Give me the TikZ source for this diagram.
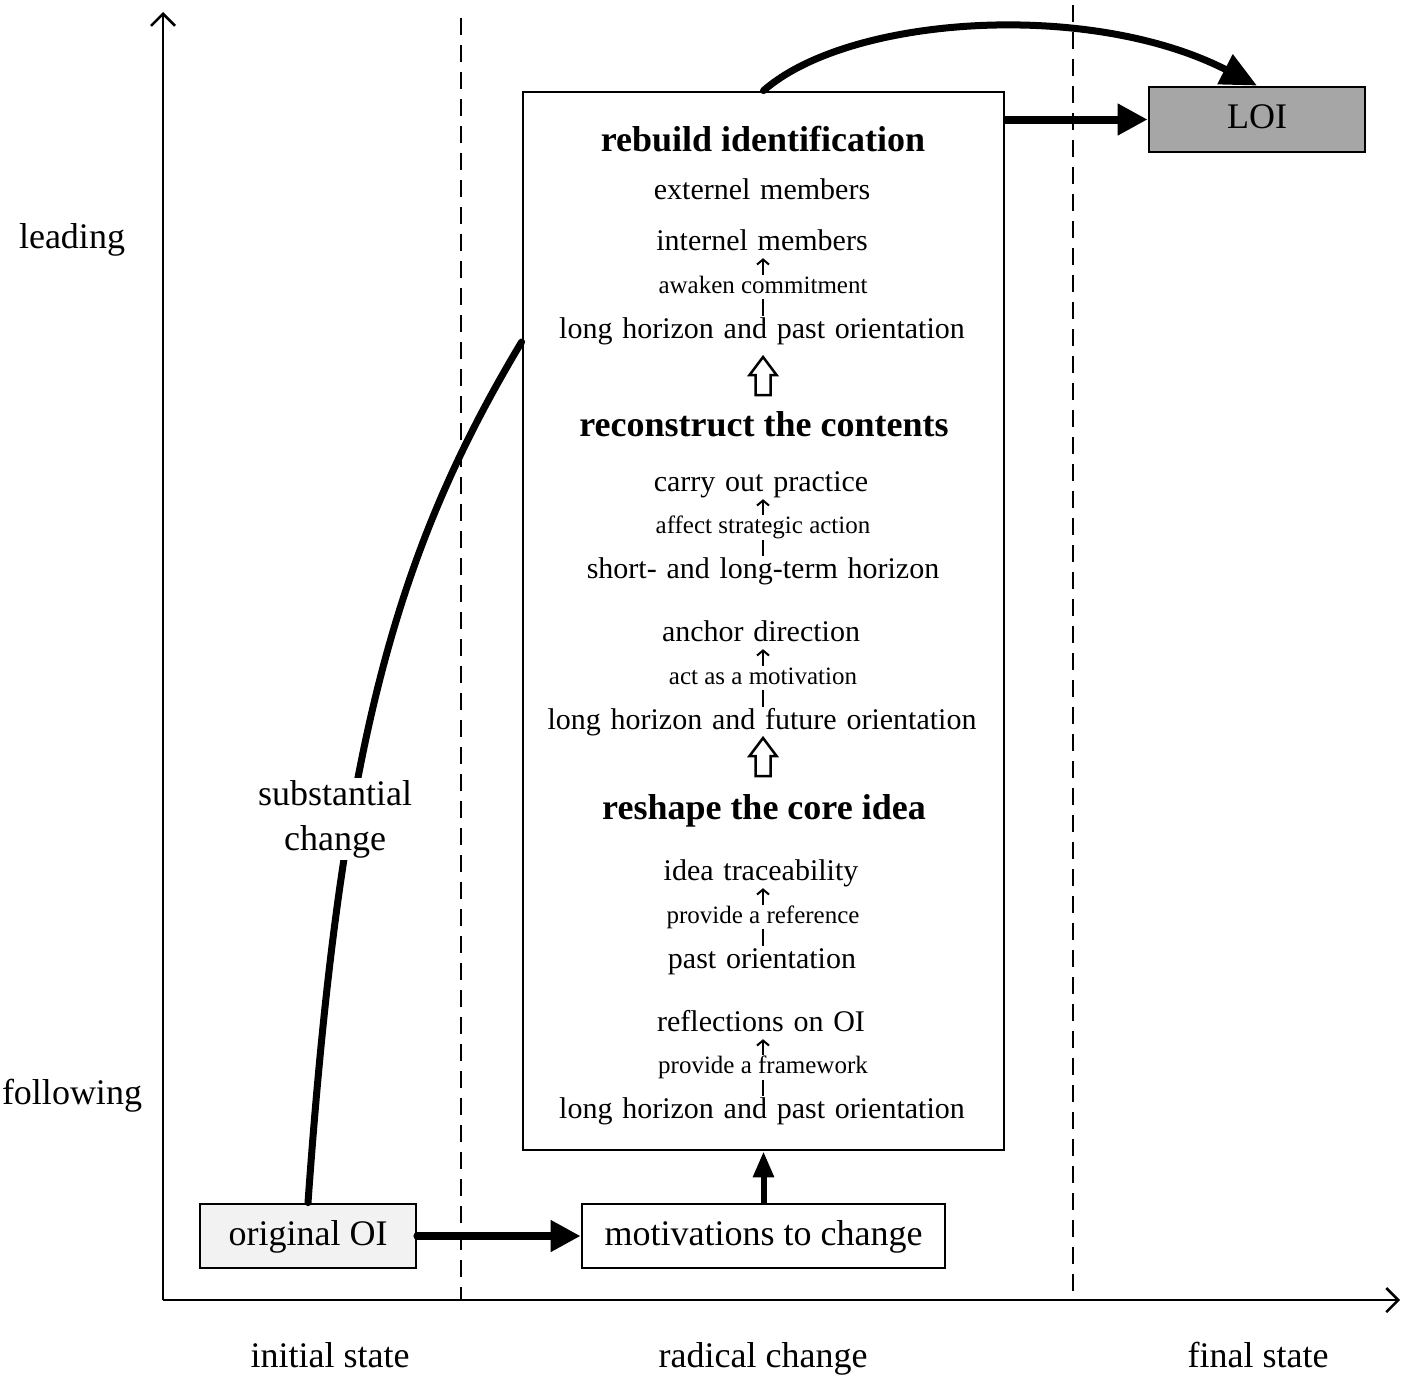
\documentclass[tikz,border=0pt]{standalone}
\usepackage{fontspec}
\setmainfont{Liberation Serif}
\newfontfamily\widefont[WordSpace=1.3]{Liberation Serif}
\usetikzlibrary{arrows.meta,calc}
\begin{document}
\begin{tikzpicture}[x=1pt,y=-1pt,
  axis/.style={line width=2.5pt,-{Straight Barb[length=12pt,width=24pt]}},
  dashline/.style={line width=2.5pt,dash pattern=on 17pt off 10pt},
  box/.style={draw,line width=2.8pt,minimum height=64pt,inner sep=0pt,font=\fontsize{36}{40}\selectfont,text height=26pt,text depth=8pt},
  main/.style={font=\widefont\fontsize{30}{34}\selectfont,inner sep=1pt,text height=21.5pt,text depth=6.5pt},
  head/.style={font=\fontsize{36}{40}\selectfont\bfseries,inner sep=1pt,text height=26pt,text depth=8pt},
  small/.style={font=\fontsize{25}{27}\selectfont,fill=white,inner sep=0.5pt,text height=18pt,text depth=5.5pt},
  lab/.style={font=\fontsize{36}{45}\selectfont,align=center},
  axlab/.style={font=\fontsize{36}{45}\selectfont,text height=26pt,text depth=8pt},
  thin/.style={line width=2pt,-{Straight Barb[length=5pt,width=12pt]}},
  thick/.style={line width=8pt,-{Triangle[length=30pt,width=30pt]}},
  curvearr/.style={line width=7pt,line cap=round},
  hollow/.style={draw,line width=2.5pt,fill=white,line join=miter}
]
\useasboundingbox (0,0) rectangle (1402,1376);
% axes
\coordinate (O) at (163,1300);
\coordinate (ytop) at (163,12);
\coordinate (xend) at (1400,1300);
\draw[axis] (O) -- (ytop);
\draw[axis] (O) -- (xend);
% dashed separators
\coordinate (d1t) at (461,18);
\coordinate (d1b) at (461,1300);
\coordinate (d2t) at (1073,5);
\coordinate (d2b) at (1073,1292);
\draw[dashline] (d1t) -- (d1b);
\draw[dashline] (d2t) -- (d2b);
% axis labels
\node[axlab] (lead) at (72,239) {leading};
\node[axlab] (foll) at (72,1095) {following};
\node[axlab] (ini) at (330,1358) {initial state};
\node[axlab] (rad) at (763,1358) {radical change};
\node[axlab] (fin) at (1258,1358) {final state};
% boxes
\node[draw,line width=2.8pt,fill=white,minimum width=481pt,minimum height=1058pt,inner sep=0pt] (big) at (763.5,621) {};
\node[box,fill={rgb,255:red,242;green,242;blue,242},minimum width=216pt] (orig) at (308,1236) {original OI};
\node[box,fill=white,minimum width=363pt] (mot) at (763.5,1236) {motivations to change};
\node[box,fill={rgb,255:red,166;green,166;blue,166},minimum width=216pt,minimum height=65pt] (loi) at (1257,119.5) {LOI};
% contents of big box
\node[head] (h1) at (763,142) {rebuild identification};
\node[main] (a1) at (762,192) {externel members};
\node[main] (a2) at (762,243) {internel members};
\node[main] (a3) at (762,331) {long horizon and past orientation};
\node[head] (h2) at (764,427) {reconstruct the contents};
\node[main] (b1) at (761,484) {carry out practice};
\node[main] (b2) at (763,571) {short- and long-term horizon};
\node[main] (b3) at (761,634) {anchor direction};
\node[main] (b4) at (762,722) {long horizon and future orientation};
\node[head] (h3) at (764,810) {reshape the core idea};
\node[main] (c1) at (761,873) {idea traceability};
\node[main] (c2) at (762,961) {past orientation};
\node[main] (c3) at (761,1024) {reflections on OI};
\node[main] (c4) at (762,1111) {long horizon and past orientation};
% small arrows
\draw[thin] (a3.north -| 763,0) -- node[small] {awaken commitment} (a2.south -| 763,0);
\draw[thin] (b2.north -| 763,0) -- node[small] {affect strategic action} (b1.south -| 763,0);
\draw[thin] (b4.north -| 763,0) -- node[small] {act as a motivation} (b3.south -| 763,0);
\draw[thin] (c2.north -| 763,0) -- node[small] {provide a reference} (c1.south -| 763,0);
\draw[thin] (c4.north -| 763,0) -- node[small] {provide a framework} (c3.south -| 763,0);
% hollow block arrows
\coordinate (ha) at (763,395);
\coordinate (hb) at (763,776);
\foreach \c in {ha,hb}{
  \draw[hollow] ($(\c)+(-7.5,0)$) -- ++(0,-20) -- ++(-6,0) -- ($(\c)+(0,-38)$) -- ($(\c)+(13.5,-20)$) -- ++(-6,0) -- ($(\c)+(7.5,0)$) -- cycle;
}
% connectors
\draw[thick,line cap=round] (orig.east) -- (mot.west);
\draw[line width=6pt,-{Triangle[length=26pt,width=20pt]}] (mot.north) -- (big.south);
\draw[thick] (big.east |- loi.west) -- (loi.west);
\draw[curvearr,-{Triangle[length=36pt,width=32pt]}] (big.north) .. controls (850,15) and (1090,0) .. (loi.north);
\coordinate (bl) at ($(big.north west)!0.237!(big.south west)$);
\draw[curvearr] (orig.north) .. controls (340,754) and (393,556) .. (bl);
\node[lab,fill=white,inner sep=2pt] (sub) at (335,819) {substantial\\change};
\end{tikzpicture}
\end{document}
